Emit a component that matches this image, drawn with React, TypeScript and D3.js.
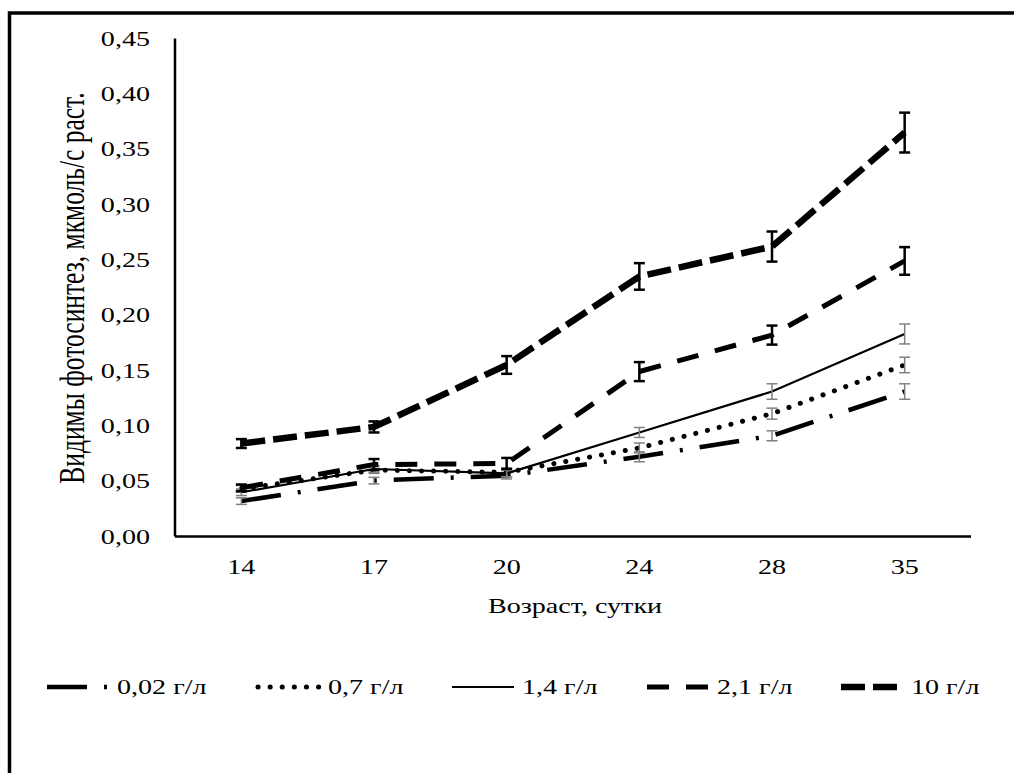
import * as d3 from "d3";

// categories (age, days)
const days = ["14", "17", "20", "24", "28", "35"];
const yTicks = [0, 0.05, 0.1, 0.15, 0.2, 0.25, 0.3, 0.35, 0.4, 0.45];
const seriesNames = ["0,02 г/л", "0,7 г/л", "1,4 г/л", "2,1 г/л", "10 г/л"];

// series values and error bars
const v002 = [0.032, 0.0505, 0.055, 0.072, 0.091, 0.131];
const e002 = [0.003, 0.003, 0.003, 0.0045, 0.0045, 0.007];
const v07 = [0.043, 0.06, 0.058, 0.08, 0.111, 0.155];
const e07 = [0.003, 0.003, 0.004, 0.0045, 0.005, 0.007];
const v14 = [0.04, 0.061, 0.057, 0.094, 0.131, 0.183];
const e14 = [0.003, 0.003, 0.003, 0.0045, 0.007, 0.009];
const v21 = [0.044, 0.065, 0.066, 0.149, 0.182, 0.249];
const e21 = [0.003, 0.005, 0.005, 0.0086, 0.0086, 0.0125];
const v10 = [0.084, 0.099, 0.155, 0.235, 0.262, 0.365];
const e10 = [0.004, 0.005, 0.008, 0.012, 0.0136, 0.018];

const values = [v002, v07, v14, v21, v10];
const errors = [e002, e07, e14, e21, e10];

// line styles per series
const styles = [
  { w: 4.5, dash: "40,17,3,17", cap: "butt", err: "#808080", errW: 1.5 },
  { w: 5, dash: "0.1,12", cap: "round", err: "#808080", errW: 1.5 },
  { w: 2.2, dash: null, cap: "butt", err: "#808080", errW: 1.5 },
  { w: 5, dash: "22,17", cap: "butt", err: "#000", errW: 2.5 },
  { w: 6.5, dash: "24,8", cap: "butt", err: "#000", errW: 2.5 },
];

const SX = 1.37; // source picture is stretched horizontally
const FONT = "'Liberation Serif', 'Times New Roman', serif";
const legendX = [47, 258, 452, 647, 841];

const Txt = ({ x, y, anchor = "start", size = 20.5, rotate = false, children }: any) => (
  <text
    transform={`translate(${x},${y}) scale(${SX},1)${rotate ? " rotate(-90)" : ""}`}
    textAnchor={anchor}
    fontSize={size}
    fontFamily={FONT}
    fill="#000"
  >
    {children}
  </text>
);

export default function App() {
  const x = d3.scaleBand().domain(days).range([175, 971]);
  const y = d3.scaleLinear().domain([0, 0.45]).range([536.5, 38.5]);
  const cx = (d: string) => (x(d) as number) + x.bandwidth() / 2;
  const fmt = (v: number) => d3.format(".2f")(v).replace(".", ",");

  const line = d3
    .line<number>()
    .x((_, i) => cx(days[i]))
    .y((d) => y(d));

  return (
    <svg width={1014} height={773} style={{ position: "absolute", left: 0, top: 0, background: "#fff" }}>
      <rect x={9.5} y={13} width={1200} height={900} fill="none" stroke="#000" strokeWidth={3.5} />

      {/* axes */}
      <line x1={175} x2={175} y1={y(0.45)} y2={y(0)} stroke="#000" strokeWidth={2.5} />
      <line x1={175} x2={971} y1={y(0)} y2={y(0)} stroke="#000" strokeWidth={2.5} />

      {yTicks.map((t) => (
        <Txt key={t} x={150} y={y(t) + 7} anchor="end">
          {fmt(t)}
        </Txt>
      ))}
      {days.map((d) => (
        <Txt key={d} x={cx(d)} y={574} anchor="middle">
          {d}
        </Txt>
      ))}
      <Txt x={575} y={613} anchor="middle">Возраст, сутки</Txt>
      <Txt x={84} y={288} anchor="middle" size={25.5} rotate>
        Видимы фотосинтез, мкмоль/с раст.
      </Txt>

      {/* series */}
      {values.map((vals, s) => (
        <g key={s}>
          <path
            d={line(vals) as string}
            fill="none"
            stroke="#000"
            strokeWidth={styles[s].w}
            strokeDasharray={styles[s].dash ?? undefined}
            strokeLinecap={styles[s].cap as any}
          />
          {vals.map((v, i) => {
            const px = cx(days[i]);
            const e = errors[s][i];
            return (
              <g key={i} stroke={styles[s].err} strokeWidth={styles[s].errW}>
                <line x1={px} x2={px} y1={y(v - e)} y2={y(v + e)} />
                <line x1={px - 5.5} x2={px + 5.5} y1={y(v - e)} y2={y(v - e)} />
                <line x1={px - 5.5} x2={px + 5.5} y1={y(v + e)} y2={y(v + e)} />
              </g>
            );
          })}
        </g>
      ))}

      {/* legend */}
      {seriesNames.map((n, s) => (
        <g key={n}>
          <line
            x1={legendX[s]}
            x2={legendX[s] + 62}
            y1={687}
            y2={687}
            stroke="#000"
            strokeWidth={styles[s].w}
            strokeDasharray={styles[s].dash ?? undefined}
            strokeLinecap={styles[s].cap as any}
          />
          <Txt x={legendX[s] + 70} y={694}>
            {n}
          </Txt>
        </g>
      ))}
    </svg>
  );
}
